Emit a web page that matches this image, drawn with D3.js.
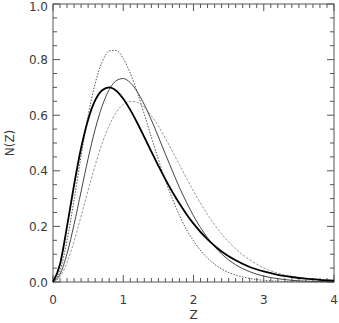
<!DOCTYPE html>
<html>
<head>
<meta charset="utf-8">
<script src="https://cdn.jsdelivr.net/npm/d3@7"></script>
<style>
  body { margin: 0; background: #fff; }
  text { font-family: "DejaVu Sans", sans-serif; fill: #3a3a3a; }
</style>
</head>
<body>
<script>
// redshift grid shared by all curves
const zValues = [0, 0.1, 0.2, 0.3, 0.4, 0.5, 0.6, 0.7, 0.8, 0.9, 1.0,
    1.1, 1.2, 1.3, 1.4, 1.5, 1.6, 1.7, 1.8, 1.9, 2.0,
    2.2, 2.4, 2.6, 2.8, 3.0, 3.2, 3.4, 3.6, 3.8, 4.0];

const thickSeries = [0, 0.064, 0.200, 0.349, 0.482, 0.584, 0.653, 0.690, 0.700, 0.688, 0.659,
    0.619, 0.572, 0.521, 0.469, 0.418, 0.369, 0.324, 0.282, 0.244, 0.210,
    0.153, 0.110, 0.078, 0.054, 0.038, 0.026, 0.018, 0.012, 0.008, 0.005];
const thinSeries = [0, 0.028, 0.102, 0.207, 0.326, 0.444, 0.549, 0.633, 0.692, 0.724, 0.732,
    0.717, 0.684, 0.638, 0.583, 0.522, 0.460, 0.399, 0.340, 0.287, 0.238,
    0.159, 0.101, 0.062, 0.037, 0.021, 0.012, 0.006, 0.003, 0.002, 0.001];
const dottedSeries = [0, 0.041, 0.149, 0.296, 0.453, 0.598, 0.714, 0.792, 0.831, 0.833, 0.804,
    0.751, 0.682, 0.603, 0.521, 0.441, 0.366, 0.299, 0.240, 0.189, 0.148,
    0.086, 0.047, 0.025, 0.013, 0.006, 0.003, 0.001, 0.001, 0.000, 0.000];
const dashedSeries = [0, 0.019, 0.071, 0.147, 0.237, 0.330, 0.420, 0.499, 0.563, 0.610, 0.639,
    0.650, 0.646, 0.628, 0.598, 0.561, 0.517, 0.470, 0.422, 0.374, 0.327,
    0.243, 0.173, 0.119, 0.080, 0.051, 0.032, 0.020, 0.012, 0.007, 0.004];

const xTicks = [0, 1, 2, 3, 4];
const yTicks = [0, 0.2, 0.4, 0.6, 0.8, 1.0];

const W = 339, H = 323;
const plot = { left: 53, right: 334, top: 4, bottom: 282 };

const svg = d3.select("body").append("svg")
    .attr("width", W)
    .attr("height", H);

const x = d3.scaleLinear().domain([0, 4]).range([plot.left, plot.right]);
const y = d3.scaleLinear().domain([0, 1]).range([plot.bottom, plot.top]);

const axisColor = "#555";

// frame
svg.append("rect")
    .attr("x", plot.left)
    .attr("y", plot.top)
    .attr("width", plot.right - plot.left)
    .attr("height", plot.bottom - plot.top)
    .attr("fill", "none")
    .attr("stroke", axisColor)
    .attr("stroke-width", 1);

// ticks, inward, on all four sides
const xMinor = d3.range(0, 4.0001, 0.1);
const yMinor = d3.range(0, 1.0001, 0.05);
const isMajorX = v => Math.abs(v - Math.round(v)) < 1e-6;
const isMajorY = v => Math.abs(v * 5 - Math.round(v * 5)) < 1e-6;

const ticks = svg.append("g").attr("stroke", axisColor).attr("stroke-width", 1);
xMinor.forEach(v => {
    const len = isMajorX(v) ? 7 : 4;
    ticks.append("line").attr("x1", x(v)).attr("x2", x(v))
        .attr("y1", plot.bottom).attr("y2", plot.bottom - len);
    ticks.append("line").attr("x1", x(v)).attr("x2", x(v))
        .attr("y1", plot.top).attr("y2", plot.top + len);
});
yMinor.forEach(v => {
    const len = isMajorY(v) ? 7 : 4;
    ticks.append("line").attr("y1", y(v)).attr("y2", y(v))
        .attr("x1", plot.left).attr("x2", plot.left + len);
    ticks.append("line").attr("y1", y(v)).attr("y2", y(v))
        .attr("x1", plot.right).attr("x2", plot.right - len);
});

// tick labels
svg.append("g").selectAll("text")
    .data(xTicks)
    .enter().append("text")
    .attr("x", d => x(d))
    .attr("y", 304)
    .attr("text-anchor", "middle")
    .attr("font-size", 12)
    .text(d => d);

// top label sits a little lower so it stays inside the page
svg.append("g").selectAll("text")
    .data(yTicks)
    .enter().append("text")
    .attr("x", 48)
    .attr("y", d => Math.max(y(d) + 4.5, 11))
    .attr("text-anchor", "end")
    .attr("font-size", 12)
    .text(d => d.toFixed(1));

svg.append("text")
    .attr("x", x(2))
    .attr("y", 319)
    .attr("text-anchor", "middle")
    .attr("font-size", 12)
    .text("Z");

svg.append("text")
    .attr("transform", "translate(14," + y(0.5) + ") rotate(-90)")
    .attr("text-anchor", "middle")
    .attr("font-size", 12)
    .text("N(Z)");

// curves
const line = d3.line()
    .x((d, i) => x(zValues[i]))
    .y(d => y(d))
    .curve(d3.curveMonotoneX);

const curves = [
    { values: dashedSeries, color: "#999", width: 1, dash: "2.5,1.5" },
    { values: dottedSeries, color: "#555", width: 1, dash: "1.5,1.5" },
    { values: thinSeries, color: "#444", width: 1, dash: null },
    { values: thickSeries, color: "#000", width: 1.8, dash: null }
];

svg.append("g").selectAll("path")
    .data(curves)
    .enter().append("path")
    .attr("d", d => line(d.values))
    .attr("fill", "none")
    .attr("stroke", d => d.color)
    .attr("stroke-width", d => d.width)
    .attr("stroke-dasharray", d => d.dash);
</script>
</body>
</html>
